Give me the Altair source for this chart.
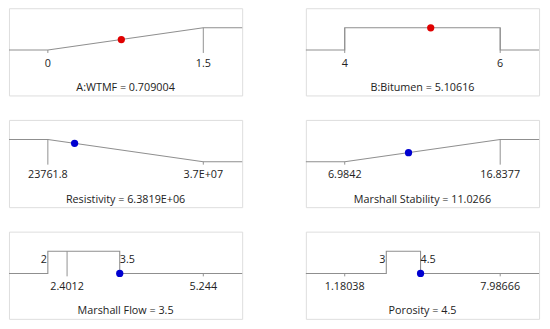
import altair as alt
import pandas as pd

# ---- data ----
titles = ["A:WTMF = 0.709004", "B:Bitumen = 5.10616", "Resistivity = 6.3819E+06",
          "Marshall Stability = 11.0266", "Marshall Flow = 3.5", "Porosity = 4.5"]
range_lo = [0, 4, 23761.8, 6.9842, 2.4012, 1.18038]
range_hi = [1.5, 6, 3.7e7, 16.8377, 5.244, 7.98666]
lo_labels = ["0", "4", "23761.8", "6.9842", "2.4012", "1.18038"]
hi_labels = ["1.5", "6", "3.7E+07", "16.8377", "5.244", "7.98666"]
tick_top = [[0, 1], [1, 1], [1, 0], [0, 1], [1, 0], [0, 0]]

curve_x = [[0, 1.5], [4, 4, 6, 6], [23761.8, 3.7e7], [6.9842, 16.8377],
           [2, 2, 3.5, 3.5], [3, 3, 4.5, 4.5]]
curve_y = [[0, 1], [0, 1, 1, 0], [1, 0], [0, 1], [0, 1, 1, 0], [0, 1, 1, 0]]

step_x = [[], [], [], [], [2, 3.5], [3, 4.5]]
step_labels = [[], [], [], [], ["2", "3.5"], ["3", "4.5"]]

current_x = [0.709004, 5.10616, 6.3819e6, 11.0266, 3.5, 4.5]
current_y = [0.473, 1.0, 0.828, 0.41, 0.0, 0.0]
point_colors = ["#e00000", "#e00000", "#0000d0", "#0000d0", "#0000d0", "#0000d0"]

FONT = "Open Sans"
FS = 11
LINE = "#8f8f8f"
W, H = 238, 89
Y_TOP, Y_BOT = 1.88, -2.04


def panel(i):
    lo = min(range_lo[i], curve_x[i][0])
    hi = max(range_hi[i], curve_x[i][-1])
    r = hi - lo
    d0, d1 = lo - 0.25 * r, hi + 0.25 * r
    xs = [d0] + curve_x[i] + [d1]
    ys = [curve_y[i][0]] + curve_y[i] + [curve_y[i][-1]]
    line_df = pd.DataFrame({"x": xs, "y": ys, "i": list(range(len(xs)))})
    xsc = alt.Scale(domain=[d0, d1], nice=False, zero=False)
    ysc = alt.Scale(domain=[Y_BOT, Y_TOP], nice=False, zero=False)
    X = lambda f: alt.X(f, type="quantitative", scale=xsc, axis=None)
    Y = lambda f: alt.Y(f, type="quantitative", scale=ysc, axis=None)

    line = alt.Chart(line_df).mark_line(color=LINE, strokeWidth=1.1).encode(
        x=X("x"), y=Y("y"), order="i:Q")

    tick_df = pd.DataFrame({"x": [range_lo[i], range_hi[i]],
                            "y0": [-0.13, -0.13], "y1": tick_top[i],
                            "lab": [lo_labels[i], hi_labels[i]], "ly": [-0.62, -0.62]})
    ticks = alt.Chart(tick_df).mark_rule(color=LINE, strokeWidth=1).encode(
        x=X("x"), y=Y("y0"), y2="y1")
    labels = alt.Chart(tick_df).mark_text(font=FONT, fontSize=FS, color="#222").encode(
        x=X("x"), y=Y("ly"), text="lab")

    title_df = pd.DataFrame({"x": [(d0 + d1) / 2], "y": [-1.71], "t": [titles[i]]})
    title = alt.Chart(title_df).mark_text(font=FONT, fontSize=FS, color="#222").encode(
        x=X("x"), y=Y("y"), text="t")

    pt_df = pd.DataFrame({"x": [current_x[i]], "y": [current_y[i]]})
    pt = alt.Chart(pt_df).mark_circle(size=55, opacity=1, color=point_colors[i]).encode(
        x=X("x"), y=Y("y"))

    layers = [line, ticks, labels, title, pt]
    if step_x[i]:
        s_df = pd.DataFrame({"x": step_x[i], "y": [0.6, 0.6], "t": step_labels[i]})
        left = alt.Chart(s_df.iloc[[0]]).mark_text(
            font=FONT, fontSize=FS, color="#222", align="right", dx=-1).encode(
            x=X("x"), y=Y("y"), text="t")
        right = alt.Chart(s_df.iloc[[1]]).mark_text(
            font=FONT, fontSize=FS, color="#222", align="left", dx=0).encode(
            x=X("x"), y=Y("y"), text="t")
        layers += [left, right]
    return alt.layer(*layers).properties(width=W, height=H)


rows = [alt.hconcat(panel(2 * r), panel(2 * r + 1), spacing=59) for r in range(3)]
chart = alt.vconcat(*rows, spacing=23).properties(
    padding={"left": -2, "top": -4, "right": 0, "bottom": 0}
).configure_view(stroke="#a8a8a8", strokeWidth=1).configure(background="white")

chart.save("out.html", embed_options={"renderer": "svg", "actions": False})
